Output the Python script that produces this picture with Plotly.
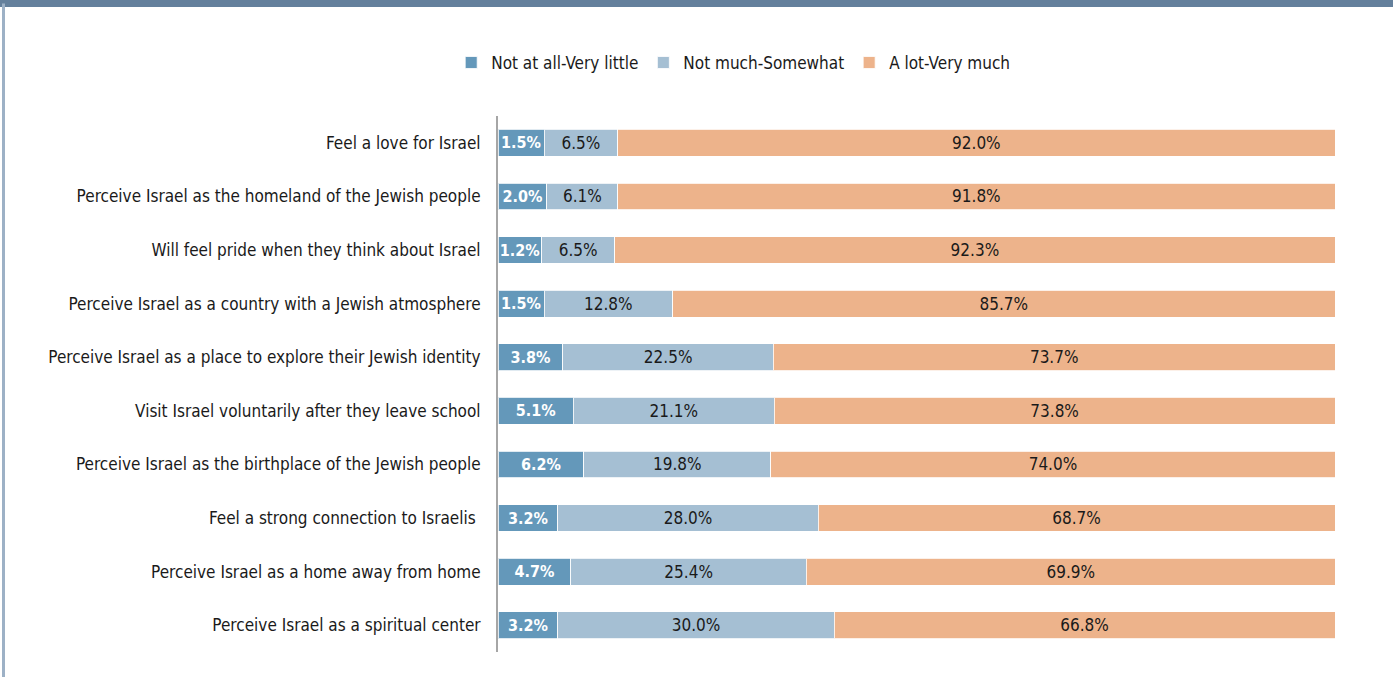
import plotly.graph_objects as go

categories = [
    "Feel a love for Israel",
    "Perceive Israel as the homeland of the Jewish people",
    "Will feel pride when they think about Israel",
    "Perceive Israel as a country with a Jewish atmosphere",
    "Perceive Israel as a place to explore their Jewish identity",
    "Visit Israel voluntarily after they leave school",
    "Perceive Israel as the birthplace of the Jewish people",
    "Feel a strong connection to Israelis ",
    "Perceive Israel as a home away from home",
    "Perceive Israel as a spiritual center",
]

series_names = ["Not at all-Very little", "Not much-Somewhat", "A lot-Very much"]

# Printed data labels (%)
labels_low = [1.5, 2.0, 1.2, 1.5, 3.8, 5.1, 6.2, 3.2, 4.7, 3.2]
labels_mid = [6.5, 6.1, 6.5, 12.8, 22.5, 21.1, 19.8, 28.0, 25.4, 30.0]
labels_high = [92.0, 91.8, 92.3, 85.7, 73.7, 73.8, 74.0, 68.7, 69.9, 66.8]

# Segment lengths as drawn in the picture (% of the full bar)
bar_low = [5.5, 5.85, 5.2, 5.5, 7.75, 9.0, 10.25, 7.15, 8.7, 7.15]
bar_mid = [8.8, 8.45, 8.75, 15.35, 25.15, 24.0, 22.35, 31.1, 28.15, 33.0]
bar_high = [85.7, 85.7, 86.05, 79.15, 67.1, 67.0, 67.4, 61.75, 63.15, 59.85]

colors = ["#6498ba", "#a5bfd3", "#edb38b"]
text_colors = ["#ffffff", "#1a1a1a", "#1a1a1a"]
text_weights = ["bold", "normal", "normal"]
text_sizes = [16, 17, 17]
FONT = "DejaVu Sans Condensed, DejaVu Sans, sans-serif"

fig = go.Figure()
for name, lengths, labs, col, tcol, tw, ts in zip(
    series_names,
    [bar_low, bar_mid, bar_high],
    [labels_low, labels_mid, labels_high],
    colors,
    text_colors,
    text_weights,
    text_sizes,
):
    fig.add_trace(
        go.Bar(
            y=categories,
            x=lengths,
            name=name,
            orientation="h",
            marker=dict(color=col, line=dict(color="rgba(255,255,255,0.8)", width=1)),
            text=[f"{v:.1f}%" for v in labs],
            textposition="inside",
            insidetextanchor="middle",
            constraintext="none",
            textangle=0,
            textfont=dict(family=FONT, size=ts, color=tcol, weight=tw),
            hoverinfo="skip",
        )
    )

fig.update_layout(
    barmode="stack",
    bargap=0.5,
    width=1393,
    height=677,
    margin=dict(l=498, r=58, t=116, b=25),
    paper_bgcolor="white",
    plot_bgcolor="white",
    font=dict(family=FONT, size=17, color="#1a1a1a"),
    showlegend=True,
    legend=dict(
        orientation="h",
        x=0.281,
        xanchor="center",
        y=1.099,
        yanchor="middle",
        font=dict(family=FONT, size=17, color="#1a1a1a"),
        itemwidth=30,
        traceorder="normal",
        bgcolor="rgba(0,0,0,0)",
    ),
    xaxis=dict(
        range=[0, 100],
        showgrid=False,
        zeroline=False,
        showticklabels=False,
        showline=False,
        fixedrange=True,
        automargin=False,
    ),
    yaxis=dict(
        autorange="reversed",
        showgrid=False,
        zeroline=False,
        showline=True,
        linecolor="#a6a6a6",
        linewidth=2,
        ticks="",
        ticklabelstandoff=12,
        automargin=False,
        tickfont=dict(family=FONT, size=17, color="#1a1a1a"),
    ),
    shapes=[
        dict(
            type="rect", xref="paper", yref="paper",
            x0=-0.6, x1=1.08, y0=1.2034, y1=1.25,
            fillcolor="#64809c", line=dict(width=0), layer="above",
        ),
        dict(
            type="line", xref="paper", yref="paper",
            x0=-0.5908, x1=-0.5908, y0=-0.1, y1=1.21,
            line=dict(color="#9db1c6", width=3),
        ),
    ],
)

fig.write_html("out.html")
